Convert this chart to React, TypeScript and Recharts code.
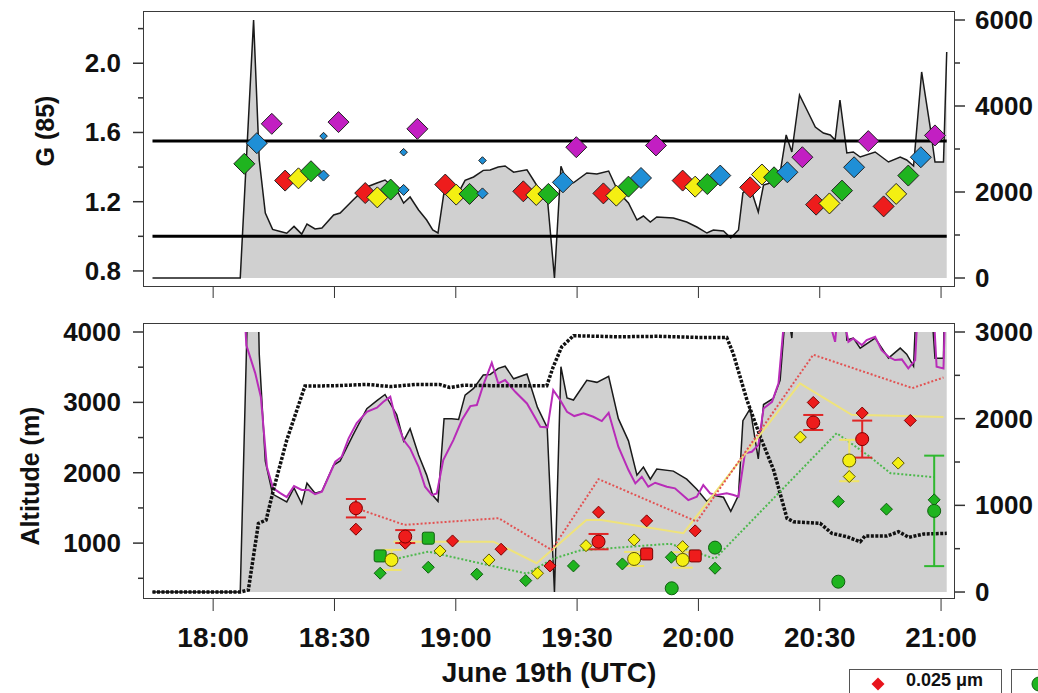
import React from 'react';
import { ComposedChart, XAxis, YAxis, Area, Line, Scatter, ErrorBar } from 'recharts';

// x values are minutes after 18:00 UTC
const timeTicks = [0, 30, 60, 90, 120, 150, 180];
const timeDomain: [number, number] = [-17.1, 183.2];

// gray profile (m), shared by both panels (right axes)
const cloudTop: [number, number][] = [
  [-15, 0], [6.7, 0], [10, 6000], [11.4, 2744], [12.9, 1510], [14.7, 1130], [16.6, 1080], [18.2, 1040],
  [20, 1200], [21.9, 1020], [23.2, 1256], [25.2, 1140], [26.9, 1163], [29.8, 1465], [31.4, 1512],
  [34.6, 1814], [38, 2116], [40.5, 2209], [42.5, 2279], [45.4, 2046], [47.1, 1744], [48.7, 1884],
  [50.8, 1581], [52.8, 1349], [54.3, 1116], [55.6, 1046], [57.1, 2000], [59, 2000], [60.7, 1991],
  [62.3, 2272], [64.4, 2349], [66.8, 2503], [68.5, 2510], [70.5, 2580], [72.2, 2605], [74.3, 2460],
  [77.6, 2515], [80.2, 2130], [82.6, 1900], [84.4, 0], [86, 2599], [87.5, 2240], [89.1, 2215],
  [92.4, 2442], [94.9, 2419], [97.8, 2488], [100.2, 2000], [102.7, 1744], [104.8, 1349], [106.4, 1442],
  [108.1, 1302], [109.7, 1419], [113.8, 1395], [117.1, 1302], [119.6, 1186], [122.1, 1046], [123.7, 1116],
  [126.2, 1093], [128, 930], [129.9, 1116], [131, 1977], [132.8, 2116], [134.8, 1535], [136.1, 2163],
  [138.5, 2233], [140.2, 2442], [141.7, 3326], [143.1, 2930], [145, 4256], [147.2, 3837], [148.9, 3512],
  [150.9, 3372], [152.6, 3326], [153.8, 3209], [155, 4140], [156.7, 2907], [158.3, 2930], [160, 2814],
  [163.7, 2930], [167, 2698], [169.9, 2814], [171.5, 2744], [173.2, 2605], [175.2, 4791], [177.3, 3512],
  [178.5, 2698], [180.6, 2698], [181.4, 5256],
];

// magenta profile (m)
const magentaAlt: [number, number][] = [
  [7.7, 3300], [8.2, 2850], [10.4, 2526], [11.8, 2249], [13.3, 1442], [14.8, 1200], [16.6, 1142],
  [18.2, 1096], [20, 1223], [21.9, 1177], [23.6, 1177], [25.2, 1130], [26.9, 1157], [30.2, 1503],
  [31.8, 1561], [33.5, 1773], [35.5, 1949], [38, 2080], [40.5, 2126], [42.1, 2195], [43.8, 2253],
  [45, 2022], [47.1, 1753], [48.7, 1657], [50.8, 1445], [52.4, 1215], [54.1, 1119], [55.3, 1138],
  [56.9, 1523], [59.4, 1753], [61.5, 1984], [63.6, 2145], [65.2, 2157], [66.8, 2388], [68.9, 2645],
  [70.5, 2407], [72.2, 2445], [74.7, 2310], [77.6, 2176], [80.9, 1907], [82.7, 1900], [84.1, 2330],
  [85.8, 2215], [87.5, 2080], [89.3, 2030], [91.6, 2061], [94, 2022], [96.1, 1972], [97.8, 2068],
  [100.2, 1676], [102.7, 1407], [104.4, 1253], [106, 1330], [107.6, 1215], [109.3, 1261], [112.2, 1215],
  [114.2, 1196], [117.5, 1061], [119.6, 1099], [121.2, 1234], [122.9, 1138], [124.6, 1119], [127, 1138],
  [128.7, 1119], [129.9, 1099], [131.5, 1600], [133.2, 1618], [134.8, 1695], [136.1, 2118], [138.2, 2195],
  [139.8, 2407], [141.5, 3300], [144, 3600], [147, 3500], [150, 3300], [152.5, 3100], [153.8, 2887],
  [155, 3500], [156.2, 3100], [157.1, 2887], [158.3, 2925], [160.4, 2849], [161.6, 2907], [163.7, 2945],
  [165.3, 2791], [167, 2714], [168.6, 2676], [170.3, 2684], [171.9, 2580], [173.6, 2676], [174.5, 3500],
  [176.5, 3800], [178.2, 3200], [178.9, 2599], [180.6, 2580], [181.2, 3600],
];

// black dotted track (m)
const flightAlt: [number, number][] = [
  [-15, 0], [6.7, 0], [8.7, 23], [11.2, 792], [13.1, 830], [14.9, 1176], [18.2, 1753], [22.7, 2376],
  [30, 2380], [38, 2395], [44, 2370], [50, 2395], [56, 2395], [58.5, 2360], [62, 2385], [70, 2380],
  [82.5, 2380], [84.1, 2599], [86.2, 2830], [89.1, 2957], [100, 2945], [110, 2950], [120, 2937],
  [127, 2937], [128.6, 2753], [132, 2215], [135.3, 1791], [138.6, 1407], [141.9, 850], [143.5, 811],
  [150.1, 792], [153, 677], [156.7, 638], [160, 580], [161.2, 646], [166.6, 646], [169.5, 696],
  [172, 631], [175.7, 669], [181.4, 677],
];

// size-resolved lines, left axis (m)
const redLine: [number, number][] = [
  [35.2, 1500], [47.3, 1259], [70.6, 1354], [83.7, 903], [95.3, 1909], [119.6, 1306], [148.4, 3677],
  [172.9, 3203], [180.6, 3353],
];
const yellowLine: [number, number][] = [
  [44.6, 1021], [69.3, 1021], [80, 714], [92.3, 1330], [96, 1330], [116.3, 1141], [145.1, 3270],
  [157.9, 2824], [180.6, 2791],
];
const greenLine: [number, number][] = [
  [44, 761], [53.2, 879], [66, 714], [77.6, 565], [84.1, 778], [90.7, 896], [113, 991], [124.1, 778],
  [154.2, 2563], [162.5, 2223], [167.5, 1994], [178.2, 1937],
];

// lower panel markers: [minute, altitude, error]
const diaRed: [number, number][] = [
  [35.3, 1198], [47.5, 999], [59.2, 1031], [71.2, 913], [83.3, 676], [95.3, 1440], [107.2, 1316],
  [119.2, 1174], [148.4, 2999], [160.5, 2848], [172.4, 2743],
];
const diaYellow: [number, number][] = [
  [56.1, 889], [68.2, 761], [80.2, 572], [92.2, 964], [104.1, 1045], [116.1, 950], [145.2, 2506],
  [157.3, 1946], [169.4, 2137],
];
const diaGreen: [number, number][] = [
  [41.3, 572], [53.2, 657], [65.2, 558], [77.3, 467], [89.1, 676], [101.2, 704], [113.3, 799],
  [124.1, 643], [154.6, 1590], [166.5, 1482], [178.3, 1615],
];
const circRed: [number, number, number][] = [
  [35.3, 1496, 131], [47.5, 1093, 92], [95.3, 1021, 109], [148.4, 2714, 107], [160.5, 2478, 263],
];
const circYellow: [number, number, number][] = [
  [44.1, 761, 142], [104.1, 775, 100], [116.1, 761, 110], [157.3, 2174, 294],
];
const circGreen: [number, number, number][] = [
  [113.4, 358, 0], [124.1, 936, 0], [154.6, 452, 0], [178.3, 1458, 785],
];
const sqRed: [number, number][] = [[107.2, 846], [119.2, 818]];
const sqGreen: [number, number][] = [[41.3, 818], [53.2, 1070]];

// upper panel G(85) values
const gRed: [number, number][] = [
  [17.8, 1.322], [37.6, 1.25], [57.4, 1.299], [76.7, 1.26], [96.5, 1.248], [116.1, 1.322], [132.8, 1.283],
  [149.1, 1.183], [165.8, 1.173],
];
const gYellow: [number, number][] = [
  [21.1, 1.335], [40.6, 1.225], [60.1, 1.241], [79.9, 1.239], [99.7, 1.235], [119.2, 1.287], [135.7, 1.357],
  [152.4, 1.19], [168.9, 1.245],
];
const gGreen: [number, number][] = [
  [7.7, 1.419], [24.2, 1.376], [43.9, 1.27], [63.4, 1.245], [82.9, 1.245], [102.7, 1.287], [122.2, 1.302],
  [138.7, 1.341], [155.5, 1.264], [171.9, 1.351],
];
const gBlue: [number, number][] = [
  [10.8, 1.538], [86.5, 1.312], [105.8, 1.337], [125.4, 1.351], [142, 1.37], [158.5, 1.399], [175, 1.457],
];
const gBlueSmall: [number, number][] = [[27.3, 1.351], [47.1, 1.268], [66.6, 1.248]];
const gBlueTiny: [number, number][] = [[27.3, 1.579], [47.1, 1.486], [66.6, 1.438]];
const gMagenta: [number, number][] = [
  [14.5, 1.65], [31, 1.66], [50.5, 1.621], [89.8, 1.515], [109.5, 1.525], [145.7, 1.457], [162, 1.55],
  [178.5, 1.583],
];
const gLimits = [1.55, 1.0];

const gTicks = [0.8, 1.0, 1.2, 1.4, 1.6, 1.8, 2.0, 2.2];
const topAltTicks = [0, 1000, 2000, 3000, 4000, 5000, 6000];
const lowLeftTicks = [500, 1000, 1500, 2000, 2500, 3000, 3500, 4000];
const lowRightTicks = [0, 500, 1000, 1500, 2000, 2500, 3000];

const pts = (arr: number[][]) => arr.map(([m, v, e]) => ({ m, v, e }));
const limitLine = (g: number) => [{ m: cloudTop[0][0], v: g }, { m: cloudTop[cloudTop.length - 1][0], v: g }];

const INK = '#222';
const C = {
  red: '#ee1c1c',
  yellow: '#f4ef12',
  green: '#1fb41f',
  blue: '#1f8fd6',
  magenta: '#c21fc2',
  gray: '#d0d0d0',
};

const hhmm = (m: number) => {
  const h = 18 + Math.floor(m / 60);
  return `${h}:${String(m % 60).padStart(2, '0')}`;
};

const yTick = (side: 'left' | 'right', isMajor: (v: number) => boolean, fmt: (v: number) => string) =>
  (p: any) => {
    const v = p.payload.value;
    const major = isMajor(v);
    const dir = side === 'left' ? -1 : 1;
    const len = major ? 11 : 6;
    return (
      <g>
        <line x1={p.x} x2={p.x + dir * len} y1={p.y} y2={p.y} stroke="#333" strokeWidth={1.5} />
        {major && (
          <text
            x={p.x + dir * (len + (side === 'left' ? 12 : 10))}
            y={p.y}
            textAnchor={side === 'left' ? 'end' : 'start'}
            dominantBaseline="central"
            fontSize={26}
            fontWeight="bold"
            fill="#111"
          >
            {fmt(v)}
          </text>
        )}
      </g>
    );
  };

const sideTitle = (text: string, cx: number, shift: number) => (p: any) => {
  const cy = p.viewBox.y + p.viewBox.height / 2 + shift;
  return (
    <text x={cx} y={cy} transform={`rotate(-90 ${cx} ${cy})`} textAnchor="middle" dominantBaseline="central"
      fontSize={25} fontWeight="bold" fill="#111">
      {text}
    </text>
  );
};

const diamond = (r: number, fill: string, stroke: string) => (p: any) => (
  <path
    d={`M${p.cx},${p.cy - r}L${p.cx + r},${p.cy}L${p.cx},${p.cy + r}L${p.cx - r},${p.cy}Z`}
    fill={fill}
    stroke={stroke}
    strokeWidth={1}
  />
);
const circle = (r: number, fill: string, stroke: string) => (p: any) => (
  <circle cx={p.cx} cy={p.cy} r={r} fill={fill} stroke={stroke} strokeWidth={1} />
);
const square = (h: number, fill: string, stroke: string) => (p: any) => (
  <rect x={p.cx - h} y={p.cy - h} width={2 * h} height={2 * h} rx={2} fill={fill} stroke={stroke} strokeWidth={1} />
);

const frame = (top: number, height: number) => ({
  position: 'absolute' as const,
  left: 143,
  top: top - 1,
  width: 812,
  height: height + 2,
  border: '1.5px solid #3a3a3a',
  boxSizing: 'border-box' as const,
  pointerEvents: 'none' as const,
});

export default function App() {
  return (
    <div
      style={{
        position: 'absolute', left: 0, top: 0, width: 1038, height: 693, overflow: 'hidden',
        background: '#fff', fontFamily: '"Liberation Sans", Arial, sans-serif',
      }}
    >
      <div style={{ position: 'absolute', left: 0, top: 0 }}>
        <ComposedChart width={1038} height={310} margin={{ top: 12, right: 0, bottom: 0, left: 0 }}>
          <XAxis type="number" dataKey="m" domain={timeDomain} ticks={timeTicks} allowDataOverflow
            height={24} axisLine={false} tickSize={12} stroke="#333" tickFormatter={() => ''} />
          <YAxis yAxisId="g" domain={[0.713, 2.296]} ticks={gTicks} allowDataOverflow width={144}
            axisLine={false} tickLine={false} tickSize={0} tickMargin={0}
            tick={yTick('left', (v) => Math.round(v * 10) % 4 === 0, (v) => v.toFixed(1))}
            label={sideTitle('G (85)', 45, -18)} />
          <YAxis yAxisId="alt" orientation="right" domain={[-186, 6186]} ticks={topAltTicks} allowDataOverflow
            width={84} axisLine={false} tickLine={false} tickSize={0} tickMargin={0}
            tick={yTick('right', (v) => v % 2000 === 0, (v) => String(v))} />
          <Area yAxisId="alt" data={pts(cloudTop)} dataKey="v" type="linear" baseValue={0}
            fill={C.gray} fillOpacity={1} stroke="#1a1a1a" strokeWidth={1.5} isAnimationActive={false} />
          {gLimits.map((g) => (
            <Line key={g} yAxisId="g" data={limitLine(g)} dataKey="v" type="linear" stroke="#000"
              strokeWidth={3} dot={false} isAnimationActive={false} />
          ))}
          <Scatter yAxisId="g" data={pts(gRed)} dataKey="v" shape={diamond(10.5, C.red, INK)} isAnimationActive={false} />
          <Scatter yAxisId="g" data={pts(gYellow)} dataKey="v" shape={diamond(10.5, C.yellow, INK)} isAnimationActive={false} />
          <Scatter yAxisId="g" data={pts(gGreen)} dataKey="v" shape={diamond(10.5, C.green, INK)} isAnimationActive={false} />
          <Scatter yAxisId="g" data={pts(gBlue)} dataKey="v" shape={diamond(10.5, C.blue, INK)} isAnimationActive={false} />
          <Scatter yAxisId="g" data={pts(gBlueSmall)} dataKey="v" shape={diamond(5.5, C.blue, INK)} isAnimationActive={false} />
          <Scatter yAxisId="g" data={pts(gBlueTiny)} dataKey="v" shape={diamond(3.8, C.blue, INK)} isAnimationActive={false} />
          <Scatter yAxisId="g" data={pts(gMagenta)} dataKey="v" shape={diamond(10.5, C.magenta, INK)} isAnimationActive={false} />
        </ComposedChart>
      </div>

      <div style={{ position: 'absolute', left: 0, top: 310 }}>
        <ComposedChart width={1038} height={383} margin={{ top: 22, right: 0, bottom: 0, left: 0 }}>
          <XAxis type="number" dataKey="m" domain={timeDomain} ticks={timeTicks} allowDataOverflow
            height={95} axisLine={false} tickSize={13} tickMargin={16} stroke="#333"
            tick={{ fontSize: 28, fontWeight: 'bold', fill: '#111' }} tickFormatter={hhmm}
            label={(p: any) => (
              <text x={p.viewBox.x + p.viewBox.width / 2} y={p.viewBox.y + 74} textAnchor="middle"
                dominantBaseline="central" fontSize={28} fontWeight="bold" fill="#111">
                June 19th (UTC)
              </text>
            )} />
          <YAxis yAxisId="h" domain={[220, 4000]} ticks={lowLeftTicks} allowDataOverflow width={144}
            axisLine={false} tickLine={false} tickSize={0} tickMargin={0}
            tick={yTick('left', (v) => v % 1000 === 0, (v) => String(v))}
            label={sideTitle('Altitude (m)', 30, 11)} />
          <YAxis yAxisId="alt" orientation="right" domain={[-69, 3000]} ticks={lowRightTicks} allowDataOverflow
            width={84} axisLine={false} tickLine={false} tickSize={0} tickMargin={0}
            tick={yTick('right', (v) => v % 1000 === 0, (v) => String(v))} />
          <Area yAxisId="alt" data={pts(cloudTop)} dataKey="v" type="linear" baseValue={0}
            fill={C.gray} fillOpacity={1} stroke="#1a1a1a" strokeWidth={1.5} isAnimationActive={false} />
          <Line yAxisId="alt" data={pts(magentaAlt)} dataKey="v" type="linear" stroke="#b82cb8"
            strokeWidth={2} dot={false} isAnimationActive={false} />
          <Line yAxisId="alt" data={pts(flightAlt)} dataKey="v" type="linear" stroke="#111"
            strokeWidth={3.5} strokeDasharray="3 1.5" dot={false} isAnimationActive={false} />
          <Line yAxisId="h" data={pts(greenLine)} dataKey="v" type="linear" stroke="#4cb84c"
            strokeWidth={2} strokeDasharray="2 2" dot={false} isAnimationActive={false} />
          <Line yAxisId="h" data={pts(yellowLine)} dataKey="v" type="linear" stroke="#efe37a"
            strokeWidth={2} dot={false} isAnimationActive={false} />
          <Line yAxisId="h" data={pts(redLine)} dataKey="v" type="linear" stroke="#e25252"
            strokeWidth={2} strokeDasharray="2 2" dot={false} isAnimationActive={false} />
          <Scatter yAxisId="h" data={pts(diaRed)} dataKey="v" shape={diamond(6, C.red, '#7a0000')} isAnimationActive={false} />
          <Scatter yAxisId="h" data={pts(diaYellow)} dataKey="v" shape={diamond(6, C.yellow, '#5a5500')} isAnimationActive={false} />
          <Scatter yAxisId="h" data={pts(diaGreen)} dataKey="v" shape={diamond(6, C.green, '#0f5f0f')} isAnimationActive={false} />
          <Scatter yAxisId="h" data={pts(sqRed)} dataKey="v" shape={square(6, C.red, '#7a0000')} isAnimationActive={false} />
          <Scatter yAxisId="h" data={pts(sqGreen)} dataKey="v" shape={square(6, C.green, '#0f5f0f')} isAnimationActive={false} />
          <Scatter yAxisId="h" data={pts(circYellow)} dataKey="v" shape={circle(6.5, C.yellow, '#5a5500')} isAnimationActive={false}>
            <ErrorBar dataKey="e" direction="y" width={10} stroke="#f0e46a" strokeWidth={2} />
          </Scatter>
          <Scatter yAxisId="h" data={pts(circRed)} dataKey="v" shape={circle(6.5, C.red, '#7a0000')} isAnimationActive={false}>
            <ErrorBar dataKey="e" direction="y" width={10} stroke="#e02626" strokeWidth={2} />
          </Scatter>
          <Scatter yAxisId="h" data={pts(circGreen)} dataKey="v" shape={circle(6.5, C.green, '#0f5f0f')} isAnimationActive={false}>
            <ErrorBar dataKey="e" direction="y" width={10} stroke="#2fb82f" strokeWidth={2} />
          </Scatter>
        </ComposedChart>
      </div>

      <div style={frame(12, 274)} />
      <div style={frame(324, 274)} />

      <div style={{ position: 'absolute', left: 849, top: 669, width: 153, height: 40, border: '1.5px solid #555', boxSizing: 'border-box' }}>
        <svg width={16} height={16} style={{ position: 'absolute', left: 20, top: 6 }}>
          <path d="M8,1.5L14.5,8L8,14.5L1.5,8Z" fill="#e8141c" />
        </svg>
        <span style={{ position: 'absolute', left: 56, top: 0, fontSize: 18, lineHeight: '21px', fontWeight: 'bold', color: '#111', whiteSpace: 'nowrap' }}>
          0.025 μm
        </span>
      </div>
      <div style={{ position: 'absolute', left: 1011, top: 669, width: 60, height: 40, border: '1.5px solid #555', boxSizing: 'border-box' }}>
        <svg width={20} height={20} style={{ position: 'absolute', left: 17, top: 4 }}>
          <circle cx={10} cy={10} r={7} fill={C.green} stroke="#0f5f0f" />
        </svg>
      </div>
    </div>
  );
}
